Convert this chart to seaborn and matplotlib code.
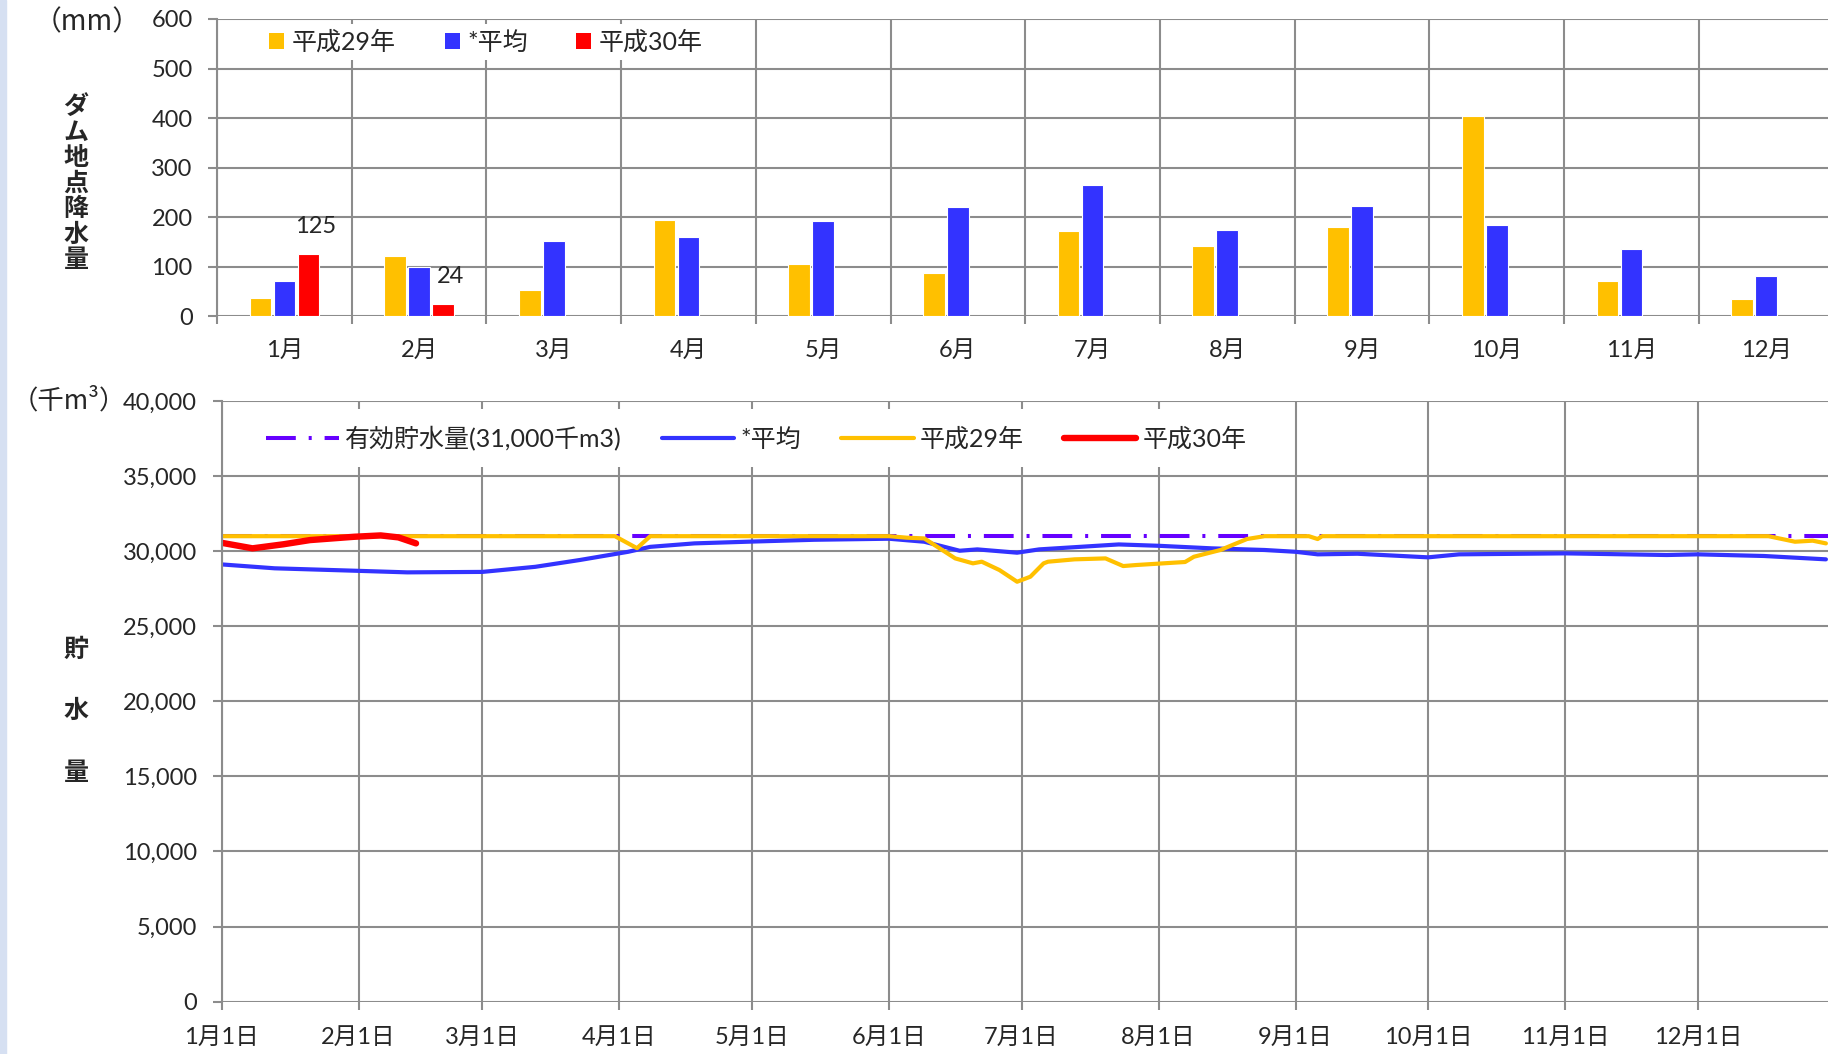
import pandas as pd
import seaborn as sns
import matplotlib.pyplot as plt
import matplotlib.dates as mdates
from matplotlib.patches import Patch, Rectangle
from matplotlib.lines import Line2D
from matplotlib.ticker import FuncFormatter

# monthly rainfall at the dam (mm)
months = ['1月', '2月', '3月', '4月', '5月', '6月', '7月', '8月', '9月', '10月', '11月', '12月']
rain_h29 = [37, 122, 53, 195, 105, 88, 171, 141, 181, 405, 72, 35]
rain_avg = [72, 99, 152, 159, 192, 220, 265, 173, 223, 185, 135, 81]
rain_h30 = [125, 24]

# storage volume (1000 m3)
capacity_dates = ['01-01', '12-31']
capacity_vals = [31000, 31000]

avg_dates = ['01-01', '01-13', '01-31', '02-12', '03-01', '03-13', '03-23', '04-03', '04-08',
             '04-18', '05-01', '05-15', '06-01', '06-09', '06-17', '06-21', '06-30', '07-05',
             '07-23', '08-01', '08-13', '08-25', '09-01', '09-06', '09-15', '10-01', '10-08',
             '11-01', '11-24', '12-01', '12-16', '12-30']
avg_vals = [29120, 28860, 28700, 28590, 28620, 28960, 29410, 29960, 30290,
            30520, 30640, 30760, 30830, 30630, 30030, 30120, 29900, 30120,
            30450, 30360, 30190, 30080, 29960, 29790, 29830, 29590, 29790,
            29855, 29745, 29790, 29680, 29457]

h29_dates = ['01-01', '03-31', '04-05', '04-08', '06-01', '06-05', '06-09', '06-16', '06-20',
             '06-22', '06-26', '06-30', '07-03', '07-06', '07-07', '07-13', '07-20', '07-24',
             '07-27', '08-07', '08-09', '08-15', '08-21', '08-25', '09-04', '09-06', '09-07',
             '12-17', '12-23', '12-27', '12-30']
h29_vals = [31000, 31000, 30200, 31000, 31000, 30900, 30850, 29520, 29190,
            29300, 28745, 27965, 28300, 29190, 29300, 29457, 29520, 29010,
            29080, 29280, 29630, 30080, 30810, 31000, 31000, 30810, 31000,
            31000, 30630, 30700, 30520]

h30_dates = ['01-01', '01-08', '01-15', '01-21', '01-31', '02-06', '02-10', '02-14']
h30_vals = [30560, 30190, 30460, 30740, 30960, 31050, 30920, 30520]

yellow = '#FFC000'
blue = '#3333FF'
red = '#FF0000'
purple = '#6600FF'
grid_c = '#8c8c8c'

sns.set_style('white')
plt.rcParams['font.family'] = ['Lato', 'Noto Sans CJK JP', 'DejaVu Sans']
cjk = ['Noto Sans CJK JP', 'DejaVu Sans']


def to_dates(md):
    return pd.to_datetime(['2017-' + s for s in md])


fig = plt.figure(figsize=(18.28, 10.54), dpi=100)
fig.patches.append(Rectangle((0, 0), 0.0033, 1, transform=fig.transFigure,
                             color='#d6e0f2', zorder=0))

# ---------- rainfall bars ----------
ax1 = fig.add_axes([0.1187, 0.700, 0.8843, 0.282])
df_rain = pd.concat([
    pd.DataFrame({'month': months, 'mm': rain_h29, 'series': '平成29年'}),
    pd.DataFrame({'month': months, 'mm': rain_avg, 'series': '*平均'}),
    pd.DataFrame({'month': months[:len(rain_h30)], 'mm': rain_h30, 'series': '平成30年'}),
])
hue_order = ['平成29年', '*平均', '平成30年']
sns.barplot(data=df_rain, x='month', y='mm', hue='series', order=months,
            hue_order=hue_order, palette=[yellow, blue, red], saturation=1,
            width=0.535, gap=0.1, errorbar=None, legend=False,
            edgecolor='white', linewidth=0.8, ax=ax1)

for bar in ax1.containers[2]:
    h = bar.get_height()
    ax1.annotate(f'{h:.0f}', xy=(bar.get_x() + bar.get_width() / 2, h),
                 xytext=(5, 20), textcoords='offset points',
                 ha='center', va='center', fontsize=17)

ax1.set_xlim(-0.5, 11.5)
ax1.set_ylim(0, 600)
ax1.set_yticks(range(0, 601, 100))
ax1.set_xticks(range(12))
ax1.set_xticks([i - 0.5 for i in range(13)], minor=True)
ax1.grid(which='minor', axis='x', color=grid_c, lw=1.5)
ax1.grid(which='major', axis='y', color=grid_c, lw=1.5)
ax1.grid(which='major', axis='x', visible=False)
ax1.set_axisbelow(True)
ax1.tick_params(axis='x', which='major', length=0, pad=17, labelsize=17)
ax1.tick_params(axis='x', which='minor', length=6, width=1.5, color=grid_c, bottom=True)
ax1.tick_params(axis='y', length=6.5, width=1.5, color=grid_c, pad=11, labelsize=17, left=True)
ax1.set_xlabel('')
ax1.set_ylabel('')
for s in ['top', 'right', 'bottom']:
    ax1.spines[s].set_visible(False)
ax1.spines['left'].set_color(grid_c)
ax1.spines['left'].set_linewidth(1.5)

bar_handles = [Patch(facecolor=c, edgecolor='none') for c in [yellow, blue, red]]
ax1.legend(bar_handles, hue_order, loc='center left', bbox_to_anchor=(0.0285, 0.922),
           ncol=3, fontsize=18, frameon=True, facecolor='white', edgecolor='none',
           framealpha=1, fancybox=False, borderpad=0.25, borderaxespad=0,
           handlelength=0.6, handleheight=0.6, handletextpad=0.3, columnspacing=1.95)

fig.text(0.0479, 0.979, '（mm）', ha='center', va='center', fontsize=20, family=cjk)
fig.text(0.0416, 0.8258, '\n'.join('ダム地点降水量'), ha='center', va='center',
         fontsize=18, fontweight='bold', linespacing=1.08, family=cjk)

# ---------- storage lines ----------
ax2 = fig.add_axes([0.1212, 0.0497, 0.8825, 0.5698])
sns.lineplot(x=to_dates(capacity_dates), y=capacity_vals, color=purple, lw=2.9,
             linestyle=(0, (7.4, 3.2, 0.75, 3.2)), ax=ax2)
sns.lineplot(x=to_dates(avg_dates), y=avg_vals, color=blue, lw=3, ax=ax2)
sns.lineplot(x=to_dates(h29_dates), y=h29_vals, color=yellow, lw=3, ax=ax2)
sns.lineplot(x=to_dates(h30_dates), y=h30_vals, color=red, lw=4.6,
             solid_capstyle='round', ax=ax2)

ax2.set_xlim(pd.Timestamp('2017-01-01'), pd.Timestamp('2018-01-01'))
ax2.set_ylim(0, 40000)
ax2.set_yticks(range(0, 40001, 5000))
ax2.yaxis.set_major_formatter(FuncFormatter(lambda v, p: f'{v:,.0f}'))
ax2.set_xticks(pd.date_range('2017-01-01', periods=12, freq='MS'))
ax2.xaxis.set_major_formatter(FuncFormatter(
    lambda v, p: f'{mdates.num2date(v).month}月{mdates.num2date(v).day}日'))
ax2.set_xlabel('')
ax2.set_ylabel('')
ax2.grid(True, color=grid_c, lw=1.5)
ax2.set_axisbelow(True)
ax2.tick_params(axis='x', length=6, width=1.5, color=grid_c, pad=12.5, labelsize=17, bottom=True)
ax2.tick_params(axis='y', length=6.5, width=1.5, color=grid_c, pad=11, labelsize=17, left=True)
for s in ['top', 'right', 'bottom']:
    ax2.spines[s].set_visible(False)
ax2.spines['left'].set_color(grid_c)
ax2.spines['left'].set_linewidth(1.5)

line_handles = [
    Line2D([], [], color=purple, lw=2.9, linestyle=(0, (7.4, 3.2, 0.75, 3.2))),
    Line2D([], [], color=blue, lw=3),
    Line2D([], [], color=yellow, lw=3),
    Line2D([], [], color=red, lw=4.6),
]
line_labels = ['有効貯水量(31,000千m3)', '*平均', '平成29年', '平成30年']
ax2.legend(line_handles, line_labels, loc='center left', bbox_to_anchor=(0.0177, 0.9384),
           ncol=4, fontsize=18, frameon=True, facecolor='white', edgecolor='none',
           framealpha=1, fancybox=False, borderpad=0.65, borderaxespad=0,
           handlelength=2.9, handletextpad=0.25, columnspacing=1.6)

fig.text(0.0378, 0.6195, '（千m³）', ha='center', va='center', fontsize=19, family=cjk)
for ch, yy in zip('貯水量', [0.3833, 0.3254, 0.2666]):
    fig.text(0.0416, yy, ch, ha='center', va='center', fontsize=18, fontweight='bold',
             family=cjk)

fig.savefig('out.png', dpi=100)
